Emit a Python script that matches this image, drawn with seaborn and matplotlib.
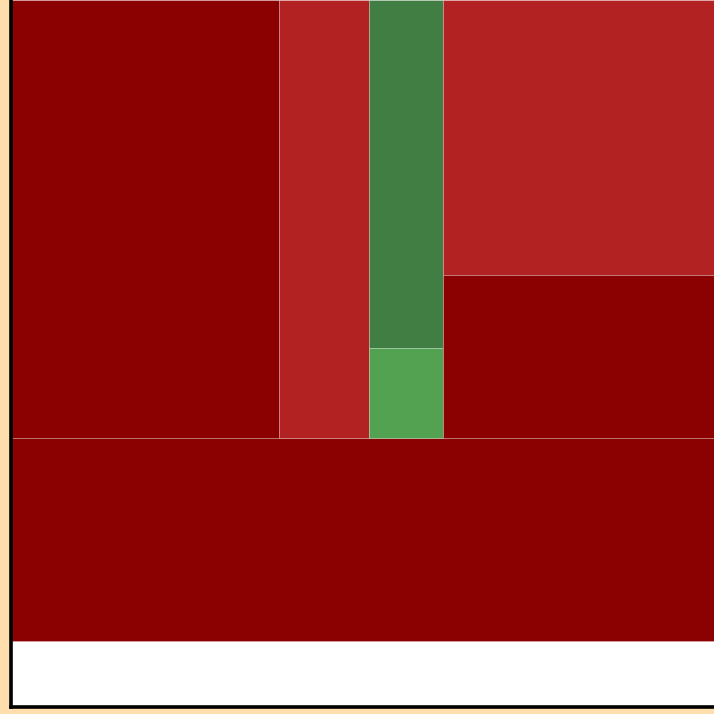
import matplotlib

matplotlib.use("Agg")
import matplotlib.pyplot as plt
import seaborn as sns
from matplotlib.patches import Rectangle

# Leaf values (share of total, %), grouped as they are nested in the treemap.
# Top row groups are laid out left to right, the bottom block spans the width.
TOP_GROUPS = [
    [26.05],          # left block
    [8.75],           # narrow block
    [5.71, 1.48],     # green column (upper, lower)
    [16.54, 9.80],    # right column (upper, lower)
]
TOP_COLORS = [
    ["#8B0000"],
    ["#B22222"],
    ["#417E44", "#52A252"],
    ["#B22222", "#8B0000"],
]
BOTTOM_VALUE = 31.67
BOTTOM_COLOR = "#8B0000"

EDGE_KW = {"edgecolor": (1, 1, 1, 0.22), "linewidth": 0.7}


def slice_dice(ax):
    """Simple slice-and-dice treemap on a 0..100 x 0..100 square."""
    top_total = sum(sum(g) for g in TOP_GROUPS)
    total = top_total + BOTTOM_VALUE
    bottom_h = 100 * BOTTOM_VALUE / total
    ax.add_patch(Rectangle((0, 0), 100, bottom_h, facecolor=BOTTOM_COLOR, **EDGE_KW))

    top_h = 100 - bottom_h
    x = 0.0
    for group, colors in zip(TOP_GROUPS, TOP_COLORS):
        gsum = sum(group)
        w = 100 * gsum / top_total
        y = 100.0
        for value, color in zip(group, colors):
            h = top_h * value / gsum
            y -= h
            ax.add_patch(Rectangle((x, y), w, h, facecolor=color, **EDGE_KW))
        x += w


sns.set_style("white")
fig = plt.figure(figsize=(7.14, 7.14), dpi=100, facecolor="navajowhite")
ax = fig.add_axes([10.5 / 714, 7 / 714, 1 - 10.5 / 714, 1 - 7 / 714])
ax.set_facecolor("white")
slice_dice(ax)

ax.set_xlim(0, 100)
ax.set_ylim(-10.3, 100)
ax.set_xticks([])
ax.set_yticks([])
sns.despine(ax=ax, top=True, right=True)
for side in ("left", "bottom"):
    ax.spines[side].set_color("black")
    ax.spines[side].set_linewidth(2.6)

fig.savefig("out.png", dpi=100, facecolor=fig.get_facecolor())
